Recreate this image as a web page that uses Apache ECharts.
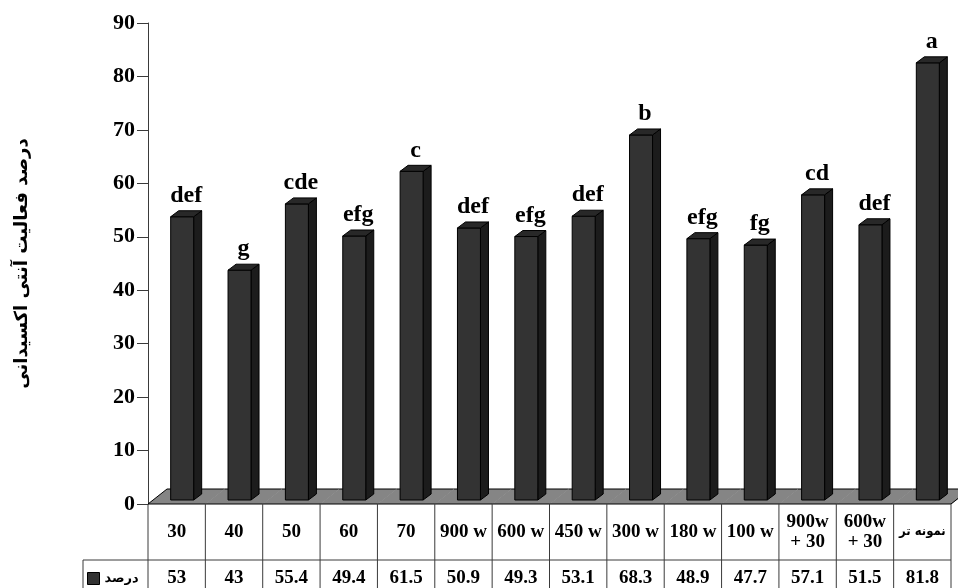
<!DOCTYPE html>
<html><head><meta charset="utf-8">
<script src="https://cdn.jsdelivr.net/npm/echarts@6/dist/echarts.min.js"></script>
<style>html,body{margin:0;padding:0;background:#fff}#c{width:958px;height:588px}</style>
</head><body><div id="c"></div>
<script>
const categories = ['30','40','50','60','70','900 w','600 w','450 w','300 w','180 w','100 w','900w\n+ 30','600w\n+ 30','نمونه تر'];
const values = [53,43,55.4,49.4,61.5,50.9,49.3,53.1,68.3,48.9,47.7,57.1,51.5,81.8];
const letters = ['def','g','cde','efg','c','def','efg','def','b','efg','fg','cd','def','a'];
const seriesName = 'درصد';
const yAxisTitle = 'درصد فعالیت آنتی اکسیدانی';
const yMin = 0, yMax = 90, yStep = 10;

const SERIF = "'Liberation Serif', 'Times New Roman', serif";
const ARABIC = "'DejaVu Sans', sans-serif";
const ARABIC_C = "'DejaVu Sans Condensed', 'DejaVu Sans', sans-serif";
const LINE = '#3a3a3a';

const chart = echarts.init(document.getElementById('c'));

function renderFloor(params, api) {
  const i = api.value(0);
  const c = api.coord([i, 0]);
  const w = api.size([1, 0])[0];
  const x0 = c[0] - w / 2, x1 = c[0] + w / 2, y0 = c[1];
  const dx = 19, dy = -15;
  const ch = [
    {type: 'polygon', shape: {points: [[x0, y0], [x1 + 0.6, y0], [x1 + 0.6 + dx, y0 + dy], [x0 + dx, y0 + dy]]},
     style: {fill: '#858585'}},
    {type: 'line', shape: {x1: x0, y1: y0, x2: x1, y2: y0}, style: {stroke: '#000', lineWidth: 1}},
    {type: 'line', shape: {x1: x0 + dx, y1: y0 + dy, x2: x1 + dx, y2: y0 + dy}, style: {stroke: '#000', lineWidth: 1}}
  ];
  if (params.dataIndex === 0) ch.push({type: 'line', shape: {x1: x0, y1: y0, x2: x0 + dx, y2: y0 + dy}, style: {stroke: '#000', lineWidth: 1}});
  if (params.dataIndex === categories.length - 1) ch.push({type: 'line', shape: {x1: x1, y1: y0, x2: x1 + dx, y2: y0 + dy}, style: {stroke: '#000', lineWidth: 1}});
  return {type: 'group', children: ch};
}

function renderBar(params, api) {
  const i = api.value(0), v = api.value(1);
  const top = api.coord([i, v]);
  const base = api.coord([i, 0]);
  const cx = top[0];
  const fw = 23, dx = 8, dy = -6, sh = -4;
  const fl = cx - 6;
  const yt = top[1] + sh, yb = base[1] + sh;
  const stroke = {stroke: '#000', lineWidth: 1};
  return {type: 'group', children: [
    {type: 'polygon', shape: {points: [[fl + fw, yt], [fl + fw + dx, yt + dy], [fl + fw + dx, yb + dy], [fl + fw, yb]]},
     style: Object.assign({fill: '#1c1c1c'}, stroke)},
    {type: 'rect', shape: {x: fl, y: yt, width: fw, height: yb - yt}, style: Object.assign({fill: '#333333'}, stroke)},
    {type: 'polygon', shape: {points: [[fl, yt], [fl + dx, yt + dy], [fl + fw + dx, yt + dy], [fl + fw, yt]]},
     style: Object.assign({fill: '#282828'}, stroke)},
    {type: 'text', style: {x: fl + (fw + dx) / 2, y: yt + dy - 3, text: letters[params.dataIndex],
      align: 'center', verticalAlign: 'bottom', font: 'bold 24px ' + SERIF, fill: '#000'}}
  ]};
}

function renderTable(params, api) {
  const i = api.value(0);
  const c = api.coord([i, 0]);
  const w = api.size([1, 0])[0];
  const H = api.getHeight();
  const x0 = c[0] - w / 2, x1 = c[0] + w / 2, y0 = c[1];
  const cat = categories[params.dataIndex];
  const isArabic = /[\u0600-\u06FF]/.test(cat);
  const ls = {stroke: LINE, lineWidth: 1};
  const ch = [
    {type: 'line', shape: {x1: x1, y1: y0, x2: x1, y2: H}, style: ls},
    {type: 'line', shape: {x1: x0, y1: y0 + 56, x2: x1, y2: y0 + 56}, style: ls},
    {type: 'text', style: {x: c[0], y: y0 + 28, text: cat, align: 'center', verticalAlign: 'middle',
      font: isArabic ? 'bold 13px ' + ARABIC_C : 'bold 19px ' + SERIF, lineHeight: 20, fill: '#000'}},
    {type: 'text', style: {x: c[0], y: y0 + 74, text: String(values[params.dataIndex]), align: 'center', verticalAlign: 'middle',
      font: 'bold 19px ' + SERIF, fill: '#000'}}
  ];
  if (params.dataIndex === 0) {
    ch.push({type: 'line', shape: {x1: x0, y1: y0, x2: x0, y2: H}, style: ls});
    ch.push({type: 'line', shape: {x1: x0 - 65, y1: y0 + 56, x2: x0, y2: y0 + 56}, style: ls});
    ch.push({type: 'line', shape: {x1: x0 - 65, y1: y0 + 56, x2: x0 - 65, y2: H}, style: ls});
  }
  return {type: 'group', children: ch};
}

const idxData = categories.map((c, i) => [i, values[i]]);

chart.setOption({
  animation: false,
  backgroundColor: '#fff',
  grid: {left: 148, right: 7, top: 23, bottom: 84},
  legend: {
    data: [seriesName], left: 82, top: 567, icon: 'rect', itemWidth: 12, itemHeight: 12, itemGap: 4,
    itemStyle: {color: '#333', borderColor: '#000', borderWidth: 1},
    textStyle: {fontFamily: ARABIC, fontWeight: 'bold', fontSize: 13, color: '#000', padding: [0, 0, 0, 0]}
  },
  xAxis: {
    type: 'category', data: categories, boundaryGap: true,
    axisLine: {show: false}, axisTick: {show: false}, axisLabel: {show: false}, splitLine: {show: false}
  },
  yAxis: {
    type: 'value', min: yMin, max: yMax, interval: yStep,
    name: yAxisTitle, nameLocation: 'middle', nameRotate: 90, nameGap: 117,
    nameTextStyle: {fontFamily: ARABIC, fontWeight: 'bold', fontSize: 18, color: '#000'},
    axisLine: {show: true, lineStyle: {color: LINE, width: 1}},
    axisTick: {show: true, length: 11, lineStyle: {color: LINE}},
    axisLabel: {margin: 13, fontFamily: SERIF, fontWeight: 'bold', fontSize: 22, color: '#000'},
    splitLine: {show: false}
  },
  series: [
    {type: 'custom', name: 'floor', renderItem: renderFloor, data: idxData, clip: false, z: 1, silent: true,
     encode: {x: 0, y: 1}},
    {type: 'custom', name: seriesName, renderItem: renderBar, data: idxData, clip: false, z: 3,
     itemStyle: {color: '#333'}, encode: {x: 0, y: 1}},
    {type: 'custom', name: 'table', renderItem: renderTable, data: idxData, clip: false, z: 2, silent: true,
     encode: {x: 0, y: 1}}
  ]
});
</script>
</body></html>
